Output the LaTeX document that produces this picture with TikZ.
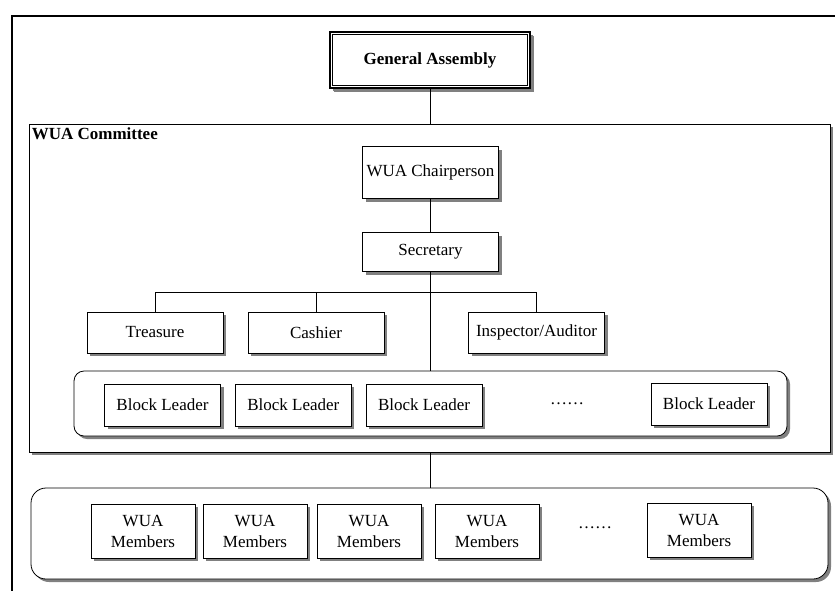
\documentclass[tikz,border=0pt]{standalone}
\usepackage{fontspec}
\setmainfont{Liberation Serif}
\usetikzlibrary{positioning, shadows}

\begin{document}
\begin{tikzpicture}[
        x=1pt, y=-1pt,
        font=\fontsize{17}{21}\selectfont,
        boxshadow/.style={drop shadow={shadow xshift=3pt, shadow yshift=-3pt, fill=black!50, opacity=1}},
        unit/.style={draw, fill=white, line width=0.8pt, inner sep=2pt, align=center,
                     minimum width=136pt, minimum height=40pt, boxshadow},
        leader/.style={unit, minimum width=116pt, minimum height=42pt},
        member/.style={unit, minimum width=104pt, minimum height=54pt},
        panel/.style={draw, fill=white, line width=0.8pt, inner sep=0pt, boxshadow},
        title/.style={font=\fontsize{17}{21}\selectfont\bfseries},
        link/.style={line width=0.8pt},
    ]

    \useasboundingbox (0,0) rectangle (835,590);
    \clip (0,0) rectangle (835,590);

    % Outer frame
    \draw[line width=2pt] (12,600) -- (12,16) -- (850,16);

    % Top of the organisation
    \node[unit, title, minimum width=200pt, minimum height=56pt, line width=2.4pt,
          drop shadow={shadow xshift=4pt, shadow yshift=-4pt, fill=black!50, opacity=1}]
          (ga) at (430,60) {General Assembly};
    \draw[line width=0.8pt] ([shift={(4,4)}]ga.north west) rectangle ([shift={(-4,-4)}]ga.south east);

    % Committee panel
    \node[panel, minimum width=801pt, minimum height=328pt] (committee) at (429.5,288) {};
    \node[title, anchor=north west, inner sep=0pt] (ctitle) at ([shift={(3,4)}]committee.north west) {WUA Committee};

    \node[unit, minimum height=52pt] (chair) at (430.5,172.5) {WUA Chairperson};
    \node[unit, minimum height=39pt] (sec) at (430.5,252) {Secretary};

    \node[unit, minimum height=41pt] (treas) at (155,332.5) {Treasure};
    \node[unit, minimum height=41pt] (cash) at (316,332.5) {Cashier};
    \node[unit, minimum height=41pt] (insp) at (536.5,332.5) {Inspector/Auditor};

    % Block leaders
    \node[panel, rounded corners=10pt, minimum width=713pt, minimum height=65pt] (blocks) at (430.5,403.5) {};
    \node[leader] (bl1) at (162.5,405) {Block Leader};
    \node[leader, right=14pt of bl1] (bl2) {Block Leader};
    \node[leader, right=14pt of bl2] (bl3) {Block Leader};
    \node (bdots) at (567,404) {……};
    \node[leader] (bl4) at (709,404) {Block Leader};

    % Members
    \node[panel, rounded corners=15pt, minimum width=797pt, minimum height=91pt] (members) at (429.5,533.5) {};
    \node[member] (m1) at (143,531) {WUA\\Members};
    \node[member] (m2) at (255,531) {WUA\\Members};
    \node[member] (m3) at (369,531) {WUA\\Members};
    \node[member] (m4) at (487,531) {WUA\\Members};
    \node (mdots) at (595,528) {……};
    \node[member] (m5) at (699,530) {WUA\\Members};

    % Connections
    \coordinate (bar) at (430,292);
    \draw[link] (ga.south) -- (ga.south |- committee.north);
    \draw[link] (chair) -- (sec);
    \draw[link] (sec.south) -- (sec.south |- blocks.north);
    \draw[link] (treas.north) -- (treas.north |- bar) -- (insp.north |- bar) -- (insp.north);
    \draw[link] (cash.north) -- (cash.north |- bar);
    \draw[link] (committee.south -| ga.south) -- (members.north -| ga.south);

\end{tikzpicture}
\end{document}
